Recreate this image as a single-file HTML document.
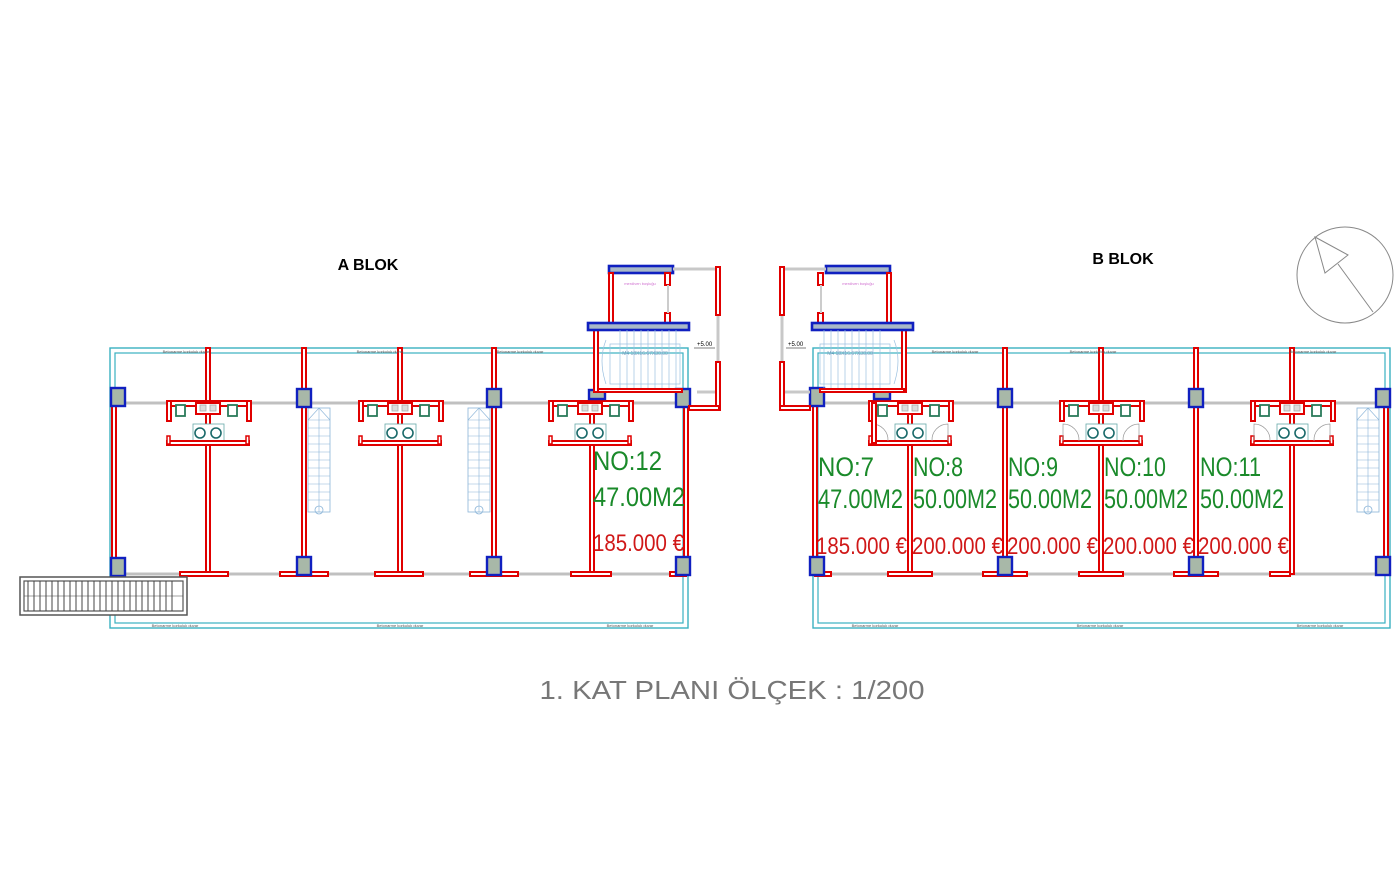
<!DOCTYPE html>
<html><head><meta charset="utf-8"><style>
html,body{margin:0;padding:0;background:#fff;}
svg{display:block;}
</style></head><body>
<svg width="1400" height="896" viewBox="0 0 1400 896" xmlns="http://www.w3.org/2000/svg" font-family="Liberation Sans, sans-serif">
<defs>
<g id="bath">
  <rect x="-41" y="0" width="84" height="5" fill="#fff" stroke="#e00000" stroke-width="2"/>
  <rect x="-41" y="0" width="4" height="20" fill="#fff" stroke="#e00000" stroke-width="2"/>
  <rect x="39" y="0" width="4" height="20" fill="#fff" stroke="#e00000" stroke-width="2"/>
  <rect x="-12" y="2" width="24" height="11" fill="#fff" stroke="#e00000" stroke-width="2"/>
  <rect x="-8" y="4" width="6" height="6" fill="#ddd" stroke="#aaa" stroke-width="0.8"/>
  <rect x="2" y="4" width="6" height="6" fill="#ddd" stroke="#aaa" stroke-width="0.8"/>
  <rect x="-32" y="4" width="9" height="11" fill="#fff" stroke="#2a7a5a" stroke-width="1.8"/>
  <rect x="20" y="4" width="9" height="11" fill="#fff" stroke="#2a7a5a" stroke-width="1.8"/>
  <rect x="-15" y="23" width="31" height="18" fill="#fff" stroke="#6aa" stroke-width="0.8"/>
  <circle cx="-8" cy="32" r="5" fill="none" stroke="#1a6a6a" stroke-width="1.6"/>
  <circle cx="8" cy="32" r="5" fill="none" stroke="#1a6a6a" stroke-width="1.6"/>
  <rect x="-41" y="40" width="82" height="4" fill="#fff" stroke="#e00000" stroke-width="2"/>
  <rect x="-41" y="35" width="3" height="8" fill="#fff" stroke="#e00000" stroke-width="1.5"/>
  <rect x="38" y="35" width="3" height="8" fill="#fff" stroke="#e00000" stroke-width="1.5"/>
</g>
<g id="col"><rect x="-7" y="-9" width="14" height="18" fill="#a8b8a8" stroke="#1020c0" stroke-width="2.4"/></g>
<g id="stair">
  <rect x="0" y="0" width="22" height="104" fill="none" stroke="#8ab4d8" stroke-width="0.8"/>
  <line x1="11" y1="0" x2="11" y2="104" stroke="#8ab4d8" stroke-width="0.6"/>
  <g stroke="#8ab4d8" stroke-width="0.6">
  <line x1="0" y1="12" x2="22" y2="12"/><line x1="0" y1="20" x2="22" y2="20"/><line x1="0" y1="28" x2="22" y2="28"/><line x1="0" y1="36" x2="22" y2="36"/><line x1="0" y1="44" x2="22" y2="44"/><line x1="0" y1="52" x2="22" y2="52"/><line x1="0" y1="60" x2="22" y2="60"/><line x1="0" y1="68" x2="22" y2="68"/><line x1="0" y1="76" x2="22" y2="76"/><line x1="0" y1="84" x2="22" y2="84"/><line x1="0" y1="92" x2="22" y2="92"/>
  <line x1="11" y1="0" x2="22" y2="12"/><line x1="11" y1="0" x2="0" y2="12"/>
  </g>
  <circle cx="11" cy="102" r="4" fill="none" stroke="#8ab4d8" stroke-width="0.8"/>
</g>
</defs>

<!-- ===== A BLOK ===== -->
<text x="368" y="270" font-size="16" font-weight="bold" text-anchor="middle" fill="#000">A BLOK</text>
<rect x="110" y="348" width="578" height="280" fill="none" stroke="#3ab0c0" stroke-width="1.4"/>
<rect x="115" y="353" width="568" height="270" fill="none" stroke="#3ab0c0" stroke-width="1.2"/>
<line x1="118" y1="403" x2="686" y2="403" stroke="#c0c0c0" stroke-width="3"/>
<line x1="118" y1="574" x2="686" y2="574" stroke="#c0c0c0" stroke-width="3"/>
<g fill="#fff" stroke="#e00000" stroke-width="2">
  <rect x="112" y="397" width="4" height="177"/>
  <rect x="206" y="348" width="4" height="226"/>
  <rect x="302" y="348" width="4" height="226"/>
  <rect x="398" y="348" width="4" height="226"/>
  <rect x="492" y="348" width="4" height="226"/>
  <rect x="590" y="395" width="4" height="179"/>
  <rect x="684" y="395" width="4" height="179"/>
  <rect x="180" y="572" width="48" height="4"/>
  <rect x="280" y="572" width="48" height="4"/>
  <rect x="375" y="572" width="48" height="4"/>
  <rect x="470" y="572" width="48" height="4"/>
  <rect x="571" y="572" width="40" height="4"/>
  <rect x="670" y="572" width="16" height="4"/>
</g>
<use href="#bath" x="208" y="401"/>
<use href="#bath" x="400" y="401"/>
<use href="#bath" x="590" y="401"/>
<use href="#stair" x="308" y="408"/>
<use href="#stair" x="468" y="408"/>
<use href="#col" x="118" y="397"/><use href="#col" x="304" y="398"/><use href="#col" x="494" y="398"/><use href="#col" x="683" y="398"/>
<use href="#col" x="118" y="567"/><use href="#col" x="304" y="566"/><use href="#col" x="494" y="566"/><use href="#col" x="683" y="566"/>
<rect x="589" y="390" width="16" height="9" fill="#a8b8a8" stroke="#1020c0" stroke-width="2.4"/>
<!-- stair core A -->
<rect x="609" y="266" width="64" height="7" fill="#a8b8c8" stroke="#1020c0" stroke-width="2.6"/>
<line x1="673" y1="269" x2="716" y2="269" stroke="#c8c8c8" stroke-width="3"/>
<line x1="697" y1="392" x2="716" y2="392" stroke="#c8c8c8" stroke-width="3"/>
<line x1="718" y1="315" x2="718" y2="362" stroke="#c8c8c8" stroke-width="3"/>
<g fill="#fff" stroke="#e00000" stroke-width="2">
  <rect x="609" y="273" width="4" height="52"/>
  <rect x="665" y="273" width="5" height="12"/>
  <rect x="665" y="313" width="5" height="12"/>
  <rect x="716" y="267" width="4" height="48"/>
  <rect x="716" y="362" width="4" height="48"/>
  <rect x="689" y="406" width="30" height="4"/>
  <rect x="594" y="330" width="4" height="62"/>
  <rect x="598" y="389" width="84" height="3"/>
</g>
<line x1="668" y1="285" x2="668" y2="313" stroke="#ccc" stroke-width="2"/>
<text x="640" y="285" font-size="4" fill="#d070d0" text-anchor="middle">merdiven boşluğu</text>
<rect x="588" y="323" width="101" height="7" fill="#a8b8c8" stroke="#1020c0" stroke-width="2.6"/>
<g stroke="#9ac0e0" stroke-width="0.7" fill="none">
  <rect x="610" y="344" width="70" height="40"/>
  <line x1="620" y1="330" x2="620" y2="388"/><line x1="627" y1="330" x2="627" y2="388"/><line x1="634" y1="330" x2="634" y2="388"/><line x1="641" y1="330" x2="641" y2="388"/><line x1="648" y1="330" x2="648" y2="388"/><line x1="655" y1="330" x2="655" y2="388"/><line x1="662" y1="330" x2="662" y2="388"/><line x1="669" y1="330" x2="669" y2="388"/><line x1="676" y1="330" x2="676" y2="388"/>
  <path d="M606 340 Q598 360 606 384"/>
</g>
<text x="645" y="355" font-size="5" fill="#7aa0c0" text-anchor="middle">M4 18X16.67X30.00</text>
<text x="697" y="346" font-size="6" fill="#000">+5.00</text>
<line x1="694" y1="348" x2="715" y2="348" stroke="#000" stroke-width="0.6"/>
<text x="593" y="470" font-size="27" fill="#1a8a2a" textLength="69" lengthAdjust="spacingAndGlyphs">NO:12</text>
<text x="593" y="506" font-size="27" fill="#1a8a2a" textLength="92" lengthAdjust="spacingAndGlyphs">47.00M2</text>
<text x="593" y="551" font-size="24" fill="#d01818" textLength="91" lengthAdjust="spacingAndGlyphs">185.000 €</text>
<g font-size="4" fill="#555" text-anchor="middle">
<text x="186" y="353">Betonarme korkuluk duvar</text><text x="380" y="353">Betonarme korkuluk duvar</text><text x="520" y="353">Betonarme korkuluk duvar</text>
<text x="175" y="627">Betonarme korkuluk duvar</text><text x="400" y="627">Betonarme korkuluk duvar</text><text x="630" y="627">Betonarme korkuluk duvar</text>
</g>
<!-- ramp -->
<rect x="20" y="577" width="167" height="38" fill="#fff" stroke="#555" stroke-width="1.5"/>
<rect x="24" y="581" width="159" height="30" fill="none" stroke="#555" stroke-width="1.2"/>
<g stroke="#444" stroke-width="1">
<line x1="28" y1="581" x2="28" y2="611"/><line x1="34" y1="581" x2="34" y2="611"/><line x1="40" y1="581" x2="40" y2="611"/><line x1="46" y1="581" x2="46" y2="611"/><line x1="52" y1="581" x2="52" y2="611"/><line x1="58" y1="581" x2="58" y2="611"/><line x1="64" y1="581" x2="64" y2="611"/><line x1="70" y1="581" x2="70" y2="611"/><line x1="76" y1="581" x2="76" y2="611"/><line x1="82" y1="581" x2="82" y2="611"/><line x1="88" y1="581" x2="88" y2="611"/><line x1="94" y1="581" x2="94" y2="611"/><line x1="100" y1="581" x2="100" y2="611"/><line x1="106" y1="581" x2="106" y2="611"/><line x1="112" y1="581" x2="112" y2="611"/><line x1="118" y1="581" x2="118" y2="611"/><line x1="124" y1="581" x2="124" y2="611"/><line x1="130" y1="581" x2="130" y2="611"/><line x1="136" y1="581" x2="136" y2="611"/><line x1="142" y1="581" x2="142" y2="611"/><line x1="148" y1="581" x2="148" y2="611"/><line x1="154" y1="581" x2="154" y2="611"/><line x1="160" y1="581" x2="160" y2="611"/><line x1="166" y1="581" x2="166" y2="611"/><line x1="172" y1="581" x2="172" y2="611"/>
<line x1="24" y1="596" x2="183" y2="596" stroke-width="0.6"/>
</g>

<!-- ===== B BLOK ===== -->
<text x="1123" y="264" font-size="16" font-weight="bold" text-anchor="middle" fill="#000">B BLOK</text>
<circle cx="1345" cy="275" r="48" fill="none" stroke="#888" stroke-width="1"/>
<polygon points="1315,237 1348,255 1325,273" fill="#fff" stroke="#888" stroke-width="1"/>
<line x1="1338" y1="264" x2="1373" y2="312" stroke="#888" stroke-width="1"/>

<rect x="813" y="348" width="577" height="280" fill="none" stroke="#3ab0c0" stroke-width="1.4"/>
<rect x="818" y="353" width="567" height="270" fill="none" stroke="#3ab0c0" stroke-width="1.2"/>
<line x1="815" y1="403" x2="1388" y2="403" stroke="#c0c0c0" stroke-width="3"/>
<line x1="815" y1="574" x2="1388" y2="574" stroke="#c0c0c0" stroke-width="3"/>
<g fill="#fff" stroke="#e00000" stroke-width="2">
  <rect x="813" y="395" width="4" height="179"/>
  <rect x="908" y="403" width="4" height="171"/>
  <rect x="1003" y="348" width="4" height="226"/>
  <rect x="1099" y="348" width="4" height="226"/>
  <rect x="1194" y="348" width="4" height="226"/>
  <rect x="1290" y="348" width="4" height="226"/>
  <rect x="1384" y="395" width="4" height="179"/>
  <rect x="815" y="572" width="16" height="4"/>
  <rect x="888" y="572" width="44" height="4"/>
  <rect x="983" y="572" width="44" height="4"/>
  <rect x="1079" y="572" width="44" height="4"/>
  <rect x="1174" y="572" width="44" height="4"/>
  <rect x="1270" y="572" width="20" height="4"/>
</g>
<use href="#bath" x="910" y="401"/>
<use href="#bath" x="1101" y="401"/>
<use href="#bath" x="1292" y="401"/>
<g fill="none" stroke="#999" stroke-width="0.7">
  <path d="M872 441 L872 424 A16 16 0 0 1 888 441"/><path d="M948 441 L948 424 A16 16 0 0 0 932 441"/>
  <path d="M1063 441 L1063 424 A16 16 0 0 1 1079 441"/><path d="M1139 441 L1139 424 A16 16 0 0 0 1123 441"/>
  <path d="M1254 441 L1254 424 A16 16 0 0 1 1270 441"/><path d="M1330 441 L1330 424 A16 16 0 0 0 1314 441"/>
</g>
<use href="#stair" x="1357" y="408"/>
<use href="#col" x="817" y="397"/><use href="#col" x="1005" y="398"/><use href="#col" x="1196" y="398"/><use href="#col" x="1383" y="398"/>
<use href="#col" x="817" y="566"/><use href="#col" x="1005" y="566"/><use href="#col" x="1196" y="566"/><use href="#col" x="1383" y="566"/>
<rect x="874" y="390" width="16" height="9" fill="#a8b8a8" stroke="#1020c0" stroke-width="2.4"/>
<!-- stair core B -->
<rect x="826" y="266" width="64" height="7" fill="#a8b8c8" stroke="#1020c0" stroke-width="2.6"/>
<line x1="784" y1="269" x2="826" y2="269" stroke="#c8c8c8" stroke-width="3"/>
<line x1="782" y1="315" x2="782" y2="362" stroke="#c8c8c8" stroke-width="3"/>
<line x1="782" y1="392" x2="810" y2="392" stroke="#c8c8c8" stroke-width="3"/>
<g fill="#fff" stroke="#e00000" stroke-width="2">
  <rect x="780" y="267" width="4" height="48"/>
  <rect x="780" y="362" width="4" height="48"/>
  <rect x="780" y="406" width="30" height="4"/>
  <rect x="887" y="273" width="4" height="52"/>
  <rect x="818" y="273" width="5" height="12"/>
  <rect x="818" y="313" width="5" height="12"/>
  <rect x="902" y="330" width="4" height="62"/>
  <rect x="820" y="389" width="84" height="3"/>
  <rect x="872" y="403" width="4" height="40"/>
</g>
<line x1="821" y1="285" x2="821" y2="313" stroke="#ccc" stroke-width="2"/>
<text x="858" y="285" font-size="4" fill="#d070d0" text-anchor="middle">merdiven boşluğu</text>
<rect x="812" y="323" width="101" height="7" fill="#a8b8c8" stroke="#1020c0" stroke-width="2.6"/>
<g stroke="#9ac0e0" stroke-width="0.7" fill="none">
  <rect x="820" y="344" width="70" height="40"/>
  <line x1="824" y1="330" x2="824" y2="388"/><line x1="831" y1="330" x2="831" y2="388"/><line x1="838" y1="330" x2="838" y2="388"/><line x1="845" y1="330" x2="845" y2="388"/><line x1="852" y1="330" x2="852" y2="388"/><line x1="859" y1="330" x2="859" y2="388"/><line x1="866" y1="330" x2="866" y2="388"/><line x1="873" y1="330" x2="873" y2="388"/><line x1="880" y1="330" x2="880" y2="388"/>
  <path d="M894 340 Q902 360 894 384"/>
</g>
<text x="850" y="355" font-size="5" fill="#7aa0c0" text-anchor="middle">M4 18X16.67X30.00</text>
<text x="788" y="346" font-size="6" fill="#000">+5.00</text>
<line x1="786" y1="348" x2="806" y2="348" stroke="#000" stroke-width="0.6"/>
<g font-size="4" fill="#555" text-anchor="middle">
<text x="955" y="353">Betonarme korkuluk duvar</text><text x="1093" y="353">Betonarme korkuluk duvar</text><text x="1313" y="353">Betonarme korkuluk duvar</text>
<text x="875" y="627">Betonarme korkuluk duvar</text><text x="1100" y="627">Betonarme korkuluk duvar</text><text x="1320" y="627">Betonarme korkuluk duvar</text>
</g>
<g font-size="27" fill="#1a8a2a">
<text x="818" y="476" textLength="56" lengthAdjust="spacingAndGlyphs">NO:7</text>
<text x="913" y="476" textLength="50" lengthAdjust="spacingAndGlyphs">NO:8</text>
<text x="1008" y="476" textLength="50" lengthAdjust="spacingAndGlyphs">NO:9</text>
<text x="1104" y="476" textLength="62" lengthAdjust="spacingAndGlyphs">NO:10</text>
<text x="1200" y="476" textLength="61" lengthAdjust="spacingAndGlyphs">NO:11</text>
<text x="818" y="508" textLength="85" lengthAdjust="spacingAndGlyphs">47.00M2</text>
<text x="913" y="508" textLength="84" lengthAdjust="spacingAndGlyphs">50.00M2</text>
<text x="1008" y="508" textLength="84" lengthAdjust="spacingAndGlyphs">50.00M2</text>
<text x="1104" y="508" textLength="84" lengthAdjust="spacingAndGlyphs">50.00M2</text>
<text x="1200" y="508" textLength="84" lengthAdjust="spacingAndGlyphs">50.00M2</text>
</g>
<g font-size="24" fill="#d01818">
<text x="816" y="554" textLength="91" lengthAdjust="spacingAndGlyphs">185.000 €</text>
<text x="912" y="554" textLength="91" lengthAdjust="spacingAndGlyphs">200.000 €</text>
<text x="1007" y="554" textLength="91" lengthAdjust="spacingAndGlyphs">200.000 €</text>
<text x="1103" y="554" textLength="91" lengthAdjust="spacingAndGlyphs">200.000 €</text>
<text x="1198" y="554" textLength="91" lengthAdjust="spacingAndGlyphs">200.000 €</text>
</g>

<text x="732" y="699" font-size="26" fill="#777" text-anchor="middle" textLength="385" lengthAdjust="spacingAndGlyphs">1. KAT PLANI ÖLÇEK : 1/200</text>
</svg>
</body></html>
